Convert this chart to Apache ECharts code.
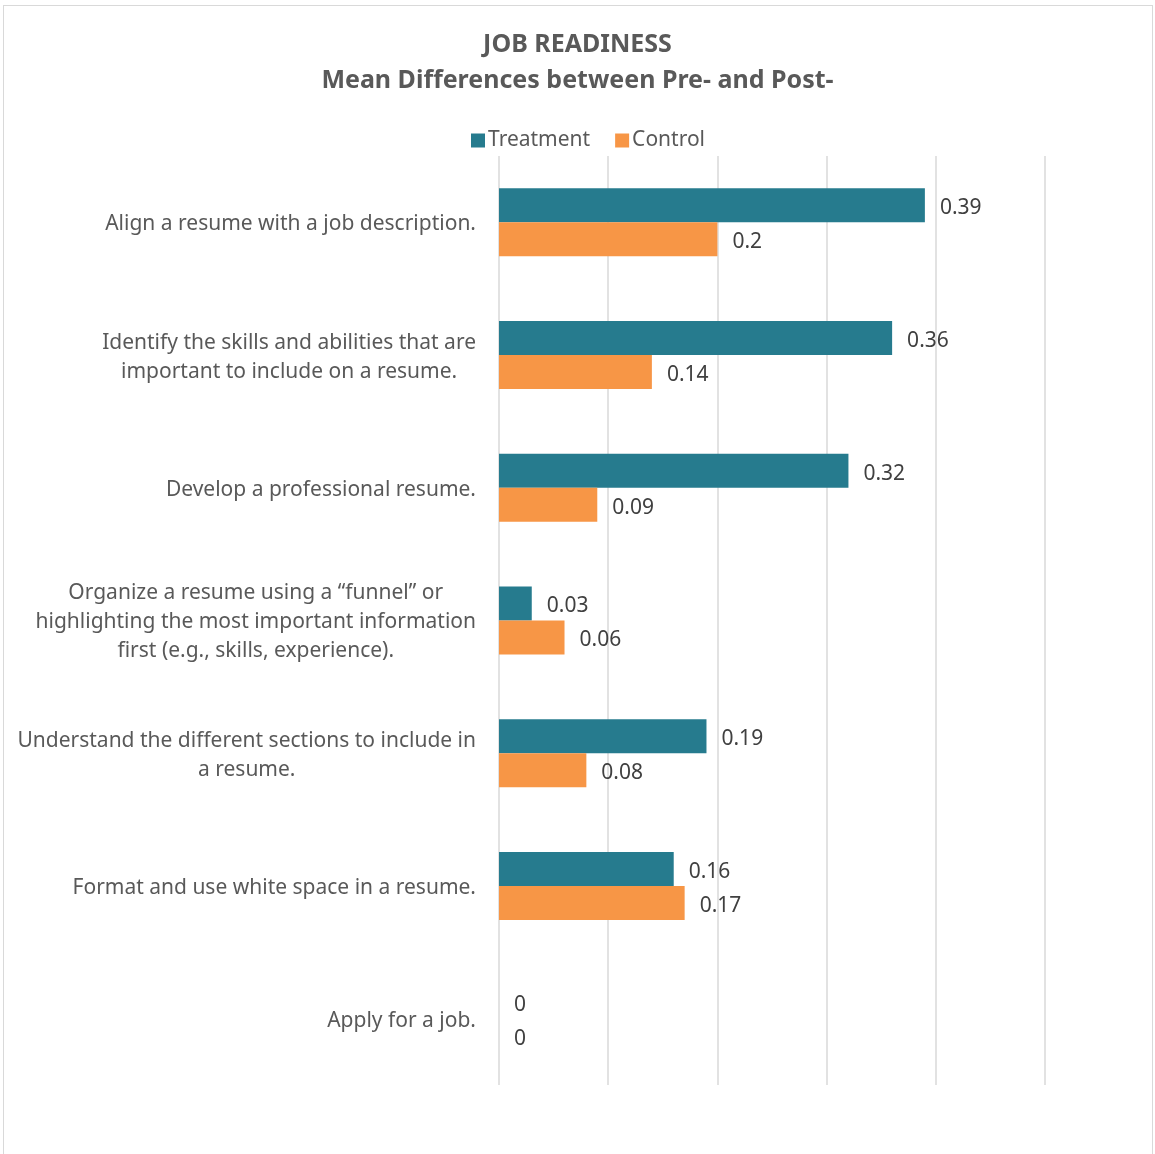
<!DOCTYPE html>
<html>
<head>
<meta charset="utf-8">
<script src="https://cdn.jsdelivr.net/npm/echarts@6/dist/echarts.min.js"></script>
<style>
  html, body { margin: 0; padding: 0; background: #fff; }
  #frame { position: absolute; left: 3px; top: 5px; width: 1150px; height: 1160px; border: 1px solid #d9d9d9; box-sizing: border-box; }
  #chart { width: 1155px; height: 1154px; }
</style>
</head>
<body>
<div id="frame"></div>
<div id="chart"></div>
<script>
// categories, top to bottom
const categories = [
  'Align a resume with a job description.',
  'Identify the skills and abilities that are\nimportant to include on a resume.',
  'Develop a professional resume.',
  'Organize a resume using a \u201cfunnel\u201d or\nhighlighting the most important information\nfirst (e.g., skills, experience).',
  'Understand the different sections to include in\na resume.',
  'Format and use white space in a resume.',
  'Apply for a job.'
];
const treatment = [0.39, 0.36, 0.32, 0.03, 0.19, 0.16, 0];
const control = [0.2, 0.14, 0.09, 0.06, 0.08, 0.17, 0];

const font = 'Noto Sans';
const chart = echarts.init(document.getElementById('chart'));

const label = {
  show: true,
  position: 'right',
  distance: 15,
  offset: [0, 3],
  color: '#404040',
  fontSize: 21,
  fontFamily: font
};

chart.setOption({
  animation: false,
  title: {
    text: 'JOB READINESS\nMean Differences between Pre- and Post-',
    left: 'center',
    top: 22,
    textStyle: { fontSize: 25, fontWeight: 'bold', color: '#595959', fontFamily: font, lineHeight: 36 }
  },
  legend: {
    top: 125,
    left: 466,
    itemWidth: 14,
    itemHeight: 14,
    itemGap: 25,
    icon: 'rect',
    textStyle: { fontSize: 21, color: '#595959', fontFamily: font, padding: [0, 0, 0, -2] },
    data: ['Treatment', 'Control']
  },
  grid: { left: 499, right: 110, top: 156, bottom: 69, containLabel: false },
  xAxis: {
    type: 'value',
    min: 0,
    max: 0.5,
    interval: 0.1,
    axisLabel: { show: false },
    axisLine: { show: false },
    axisTick: { show: false },
    splitLine: { lineStyle: { color: '#d9d9d9', width: 1.5 } }
  },
  yAxis: {
    type: 'category',
    inverse: true,
    data: categories,
    axisLine: { show: false },
    axisTick: { show: false },
    axisLabel: {
      margin: 23,
      align: 'right',
      padding: [4, 0, 0, 0],
      // each line centred inside the right-aligned block
      formatter: v => v.split('\n').map(s => '{c|' + s + '}').join('\n'),
      rich: {
        c: { align: 'center', fontSize: 21, lineHeight: 29, color: '#595959', fontFamily: font }
      }
    }
  },
  series: [
    {
      name: 'Treatment',
      type: 'bar',
      data: treatment,
      barWidth: 34,
      barGap: '0%',
      itemStyle: { color: '#267B8E' },
      label: label
    },
    {
      name: 'Control',
      type: 'bar',
      data: control,
      barWidth: 34,
      barGap: '0%',
      itemStyle: { color: '#F79646' },
      label: label
    }
  ]
});
</script>
</body>
</html>
